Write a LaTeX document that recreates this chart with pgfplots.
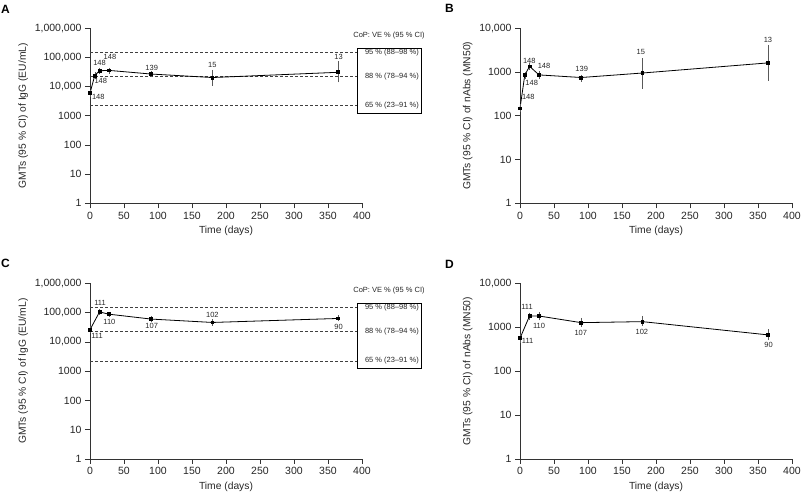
\documentclass[border=0pt]{standalone}
\usepackage{fontspec}
\setmainfont{Liberation Sans}
\usepackage{pgfplots}
\pgfplotsset{compat=1.18}
\tikzset{
  mylab/.style={font=\fontsize{7.5}{9}\selectfont, text=black!85},
  mycop/.style={black!75, line width=0.7pt, dash pattern=on 3pt off 2pt},
}
\pgfplotsset{
  every axis/.append style={
    scale only axis, width=272pt,
    xmin=0, xmax=400, xtick={0,50,100,150,200,250,300,350,400},
    xticklabels={0,50,100,150,200,250,300,350,400},
    axis x line*=bottom, axis y line*=left,
    tick align=outside, major tick length=5pt,
    tick label style={font=\fontsize{10.5}{12}\selectfont, text=black!85},
    every axis label/.append style={font=\fontsize{10.3}{12}\selectfont, text=black!85},
    xlabel={Time (days)},
    axis line style={black!80, line width=0.6pt},
    tick style={black!80, line width=0.6pt},
    clip=false,
  },
}
\begin{document}
\begin{tikzpicture}
\useasboundingbox (0,0) rectangle (801pt,494pt);
\node[font=\bfseries\fontsize{12}{14}\selectfont] at (5.5pt,484.5pt) {A};
\node[font=\bfseries\fontsize{12}{14}\selectfont] at (449.5pt,485.5pt) {B};
\node[font=\bfseries\fontsize{12}{14}\selectfont] at (5.5pt,230.5pt) {C};
\node[font=\bfseries\fontsize{12}{14}\selectfont] at (449.5pt,230pt) {D};

% ---------------- A ----------------
\begin{axis}[ymode=log, height=175pt, ymin=1, ymax=1000000,
  ytick={1,10,100,1000,10000,100000,1000000},
  yticklabels={1,10,100,1000,{10,000},{100,000},{1,000,000}},
  yminorticks=false,
  ylabel={GMTs (95 \% CI) of IgG (EU/mL)},
  at={(90pt,290.7pt)}, anchor=south west]
\addplot[mycop, forget plot] coordinates {(0,154000) (392,154000)};
\addplot[mycop, forget plot] coordinates {(0,22500) (392,22500)};
\addplot[mycop, forget plot] coordinates {(0,2200) (392,2200)};
\addplot[black, line width=0.8pt, mark=square*, mark size=1.4pt,
  error bars/.cd, y dir=both, y explicit,
  error mark options={black!65, mark size=1.3pt, line width=0.5pt},
  error bar style={black!65, line width=0.5pt}]
  table[x=x, y=y, y error plus=ep, y error minus=em] {
x y ep em
0 6000 1100 1100
7 24000 4000 4000
14 35000 5000 5000
28 36000 4000 5000
90 27000 3500 3500
180 20500 13500 8500
365 31000 37000 15500
};
\node[mylab] at (axis cs:12.2,4400) {148};
\node[mylab] at (axis cs:15.9,16000) {148};
\node[mylab] at (axis cs:14,67000) {148};
\node[mylab] at (axis cs:29.4,101000) {148};
\node[mylab] at (axis cs:90.8,42500) {139};
\node[mylab] at (axis cs:180,55000) {15};
\node[mylab] at (axis cs:365.5,101000) {13};
\end{axis}

% CoP box A
\draw[black, line width=0.7pt, fill=white] (357pt,380.7pt) rectangle (421pt,446pt);
\node[mylab, anchor=west] at (361.5pt,441.8pt) {95 \% (88–98 \%)};
\node[mylab, anchor=west] at (361.5pt,417.7pt) {88 \% (78–94 \%)};
\node[mylab, anchor=west] at (361.5pt,388pt) {65 \% (23–91 \%)};
\node[mylab] at (389pt,458pt) {CoP: VE \% (95 \% CI)};

% ---------------- B ----------------
\begin{axis}[ymode=log, height=175pt, ymin=1, ymax=10000,
  ytick={1,10,100,1000,10000},
  yticklabels={1,10,100,1000,{10,000}},
  yminorticks=false,
  ylabel={GMTs (95 \% CI) of nAbs (MN50)},
  at={(520pt,290.7pt)}, anchor=south west]
\addplot[black, line width=0.8pt, mark=square*, mark size=1.4pt,
  error bars/.cd, y dir=both, y explicit,
  error mark options={black!65, mark size=1.3pt, line width=0.5pt},
  error bar style={black!65, line width=0.5pt}]
  table[x=x, y=y, y error plus=ep, y error minus=em] {
x y ep em
0 148 22 18
7 850 100 100
14 1350 150 150
28 860 110 100
90 750 70 100
180 950 1000 500
365 1620 2280 940
};
\node[mylab] at (axis cs:12.2,268) {148};
\node[mylab] at (axis cs:17.2,571) {148};
\node[mylab] at (axis cs:13.7,1800) {148};
\node[mylab] at (axis cs:35.3,1360) {148};
\node[mylab] at (axis cs:90.8,1175) {139};
\node[mylab] at (axis cs:177.7,2830) {15};
\node[mylab] at (axis cs:364.7,5400) {13};
\end{axis}

% ---------------- C ----------------
\begin{axis}[ymode=log, height=175.7pt, ymin=1, ymax=1000000,
  ytick={1,10,100,1000,10000,100000,1000000},
  yticklabels={1,10,100,1000,{10,000},{100,000},{1,000,000}},
  yminorticks=false,
  ylabel={GMTs (95 \% CI) of IgG (EU/mL)},
  at={(90pt,35pt)}, anchor=south west]
\addplot[mycop, forget plot] coordinates {(0,154000) (392,154000)};
\addplot[mycop, forget plot] coordinates {(0,22500) (392,22500)};
\addplot[mycop, forget plot] coordinates {(0,2200) (392,2200)};
\addplot[black, line width=0.8pt, mark=square*, mark size=1.4pt,
  error bars/.cd, y dir=both, y explicit,
  error mark options={black!65, mark size=1.3pt, line width=0.5pt},
  error bar style={black!65, line width=0.5pt}]
  table[x=x, y=y, y error plus=ep, y error minus=em] {
x y ep em
0 26000 5000 4500
14 105000 12000 10000
28 88000 8000 8000
90 60000 8000 8000
180 46000 7000 6000
365 63000 10000 8000
};
\node[mylab] at (axis cs:10.3,15800) {111};
\node[mylab] at (axis cs:14.7,218000) {111};
\node[mylab] at (axis cs:28.5,47000) {110};
\node[mylab] at (axis cs:90.8,35200) {107};
\node[mylab] at (axis cs:180,80700) {102};
\node[mylab] at (axis cs:365.5,33000) {90};
\end{axis}

% CoP box C
\draw[black, line width=0.7pt, fill=white] (357pt,125.7pt) rectangle (421pt,191pt);
\node[mylab, anchor=west] at (361.5pt,186.8pt) {95 \% (88–98 \%)};
\node[mylab, anchor=west] at (361.5pt,162.7pt) {88 \% (78–94 \%)};
\node[mylab, anchor=west] at (361.5pt,133pt) {65 \% (23–91 \%)};
\node[mylab] at (389pt,203pt) {CoP: VE \% (95 \% CI)};

% ---------------- D ----------------
\begin{axis}[ymode=log, height=175.7pt, ymin=1, ymax=10000,
  ytick={1,10,100,1000,10000},
  yticklabels={1,10,100,1000,{10,000}},
  yminorticks=false,
  ylabel={GMTs (95 \% CI) of nAbs (MN50)},
  at={(520pt,35pt)}, anchor=south west]
\addplot[black, line width=0.8pt, mark=square*, mark size=1.4pt,
  error bars/.cd, y dir=both, y explicit,
  error mark options={black!65, mark size=1.3pt, line width=0.5pt},
  error bar style={black!65, line width=0.5pt}]
  table[x=x, y=y, y error plus=ep, y error minus=em] {
x y ep em
0 560 110 90
14 1800 200 210
28 1800 230 270
90 1270 250 200
180 1340 360 210
365 668 172 133
};
\node[mylab] at (axis cs:11.3,495) {111};
\node[mylab] at (axis cs:10.3,2860) {111};
\node[mylab] at (axis cs:28,1070) {110};
\node[mylab] at (axis cs:89.4,730) {107};
\node[mylab] at (axis cs:179.2,794) {102};
\node[mylab] at (axis cs:365.6,395) {90};
\end{axis}
\end{tikzpicture}
\end{document}
